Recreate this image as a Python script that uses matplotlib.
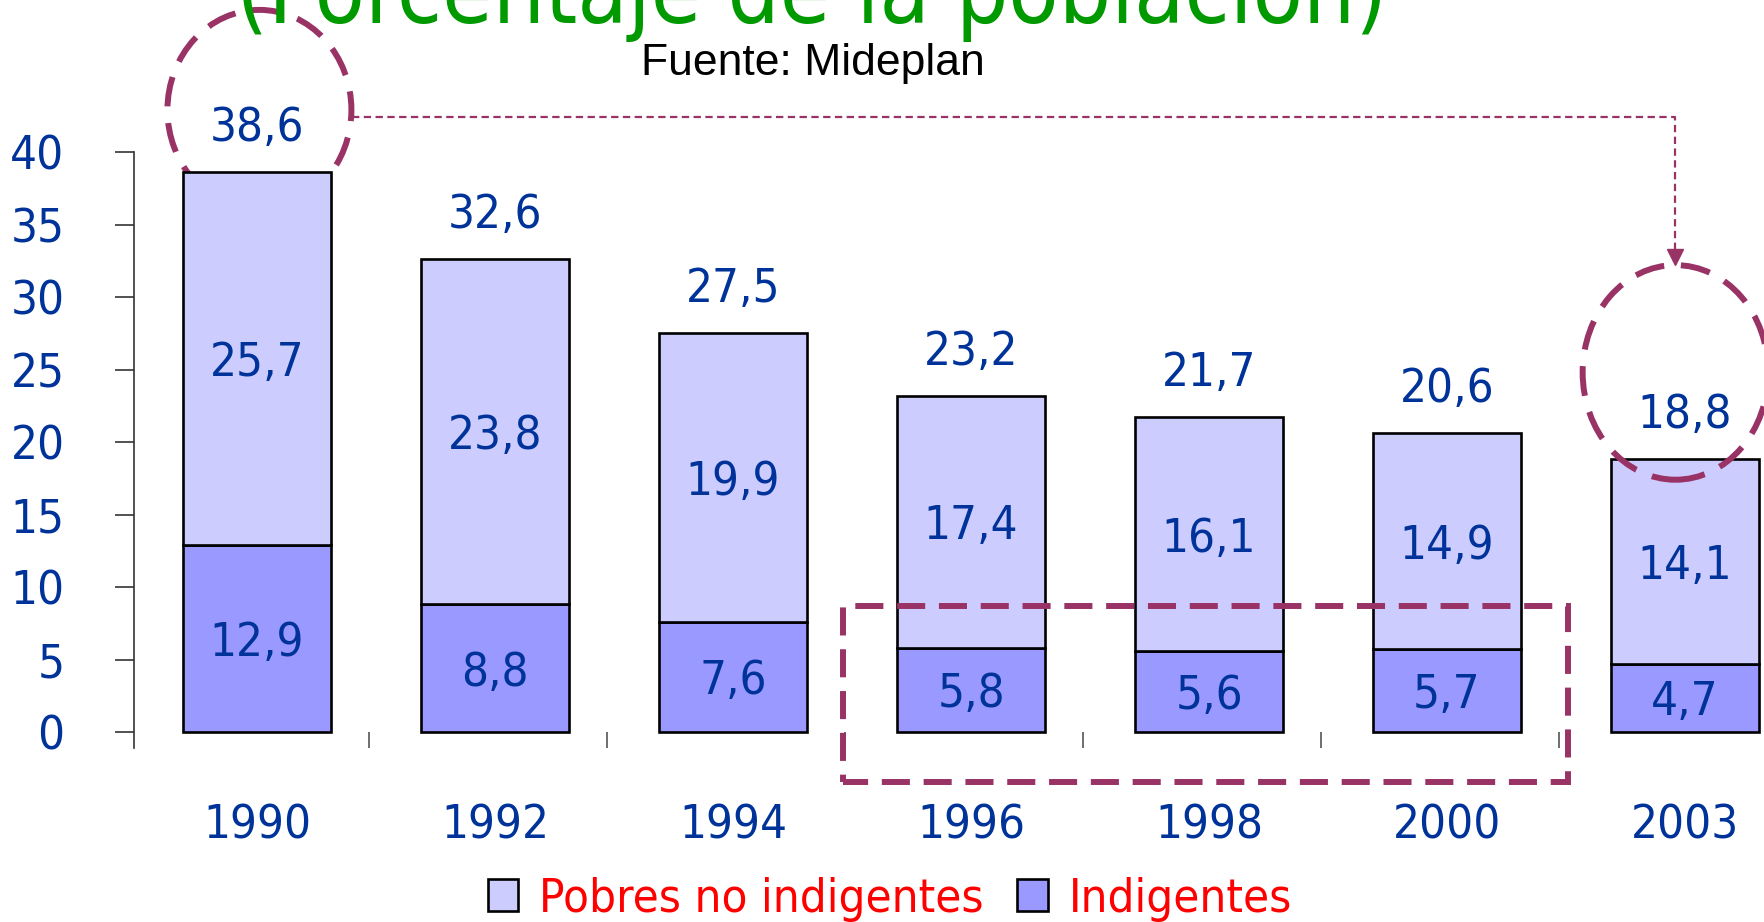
import matplotlib

matplotlib.use("Agg")
import matplotlib.pyplot as plt
import numpy as np
from matplotlib import font_manager as fm
from matplotlib.patches import Ellipse, Patch, Rectangle

years = ["1990", "1992", "1994", "1996", "1998", "2000", "2003"]
indigentes = [12.9, 8.8, 7.6, 5.8, 5.6, 5.7, 4.7]
pobres_no_ind = [25.7, 23.8, 19.9, 17.4, 16.1, 14.9, 14.1]
totales = [38.6, 32.6, 27.5, 23.2, 21.7, 20.6, 18.8]
yticks = [0, 5, 10, 15, 20, 25, 30, 35, 40]

LIGHT = "#CCCCFF"
DARK = "#9999FF"
BLUE = "#003399"
MAROON = "#993366"

# pick a narrow face if the box has one
entries = fm.fontManager.ttflist
names = {f.name for f in entries}
if "Liberation Sans Narrow" in names:
    NARROW = dict(family="Liberation Sans Narrow")
    NUM = 38
elif any(f.name == "DejaVu Sans" and f.stretch == "condensed" for f in entries):
    NARROW = dict(family="DejaVu Sans", stretch="condensed")
    NUM = 34
else:
    NARROW = dict(family="DejaVu Sans")
    NUM = 31


def fp(size, **kw):
    return fm.FontProperties(size=size, **NARROW, **kw)


W, H = 1764, 922
fig = plt.figure(figsize=(W / 100, H / 100), dpi=100)
ax = fig.add_axes([134 / W, (H - 748) / H, 1 - 134 / W, (748 - 152) / H])

x = np.arange(len(years))
bw = 0.62
ax.bar(x, indigentes, bw, color=DARK, edgecolor="black", linewidth=1.9, zorder=3)
ax.bar(x, pobres_no_ind, bw, bottom=indigentes, color=LIGHT,
       edgecolor="black", linewidth=1.9, zorder=3)

ax.set_xlim(-0.517, 6.332)
ax.set_ylim(-1.1, 40)

for i in x:
    ax.text(i, indigentes[i] / 2, f"{indigentes[i]:.1f}".replace(".", ","),
            ha="center", va="center_baseline", color=BLUE,
            fontproperties=fp(NUM), zorder=5)
    ax.text(i, indigentes[i] + pobres_no_ind[i] / 2,
            f"{pobres_no_ind[i]:.1f}".replace(".", ","),
            ha="center", va="center_baseline", color=BLUE,
            fontproperties=fp(NUM), zorder=5)
    ax.annotate(f"{totales[i]:.1f}".replace(".", ","), (i, totales[i]),
                xytext=(0, 35), textcoords="offset points", ha="center",
                va="center_baseline", color=BLUE, fontproperties=fp(NUM),
                annotation_clip=False, zorder=5)

# axes styling
for s in ["top", "right", "bottom"]:
    ax.spines[s].set_visible(False)
ax.spines["left"].set_color("#333333")
ax.spines["left"].set_linewidth(1.2)
ax.set_yticks(yticks)
ax.set_yticklabels([str(v) for v in yticks], fontproperties=fp(NUM), color=BLUE)
ax.tick_params(axis="y", direction="out", length=14, width=1.2,
               color="#333333", pad=36)
ax.set_xticks(x)
ax.set_xticklabels(years, fontproperties=fp(NUM), color=BLUE)
ax.tick_params(axis="x", which="major", length=0, pad=40)
ax.set_xticks(x[:-1] + 0.47, minor=True)
ax.tick_params(axis="x", which="minor", direction="in", length=11.5,
               width=1.2, color="#555555")

# highlight marks
ax.add_patch(Ellipse((0.01, 42.9), 0.773, 13.8, fill=False, edgecolor=MAROON,
                     linewidth=4.3, linestyle=(0, (5, 2.8)), clip_on=False,
                     zorder=2))
ax.add_patch(Ellipse((5.96, 24.8), 0.78, 14.8, fill=False, edgecolor=MAROON,
                     linewidth=4.3, linestyle=(0, (5, 2.8)), clip_on=False,
                     zorder=4))
ax.add_patch(Rectangle((2.462, -3.45), 3.046, 12.14, fill=False,
                       edgecolor=MAROON, linewidth=4.3,
                       linestyle=(0.5, (4.7, 2.3)), clip_on=False, zorder=6))
ax.plot([0.4, 5.96, 5.96], [42.4, 42.4, 33.3], color=MAROON, linewidth=1.6,
        linestyle=(0, (3.3, 2)), clip_on=False, zorder=4)
ax.plot([5.96], [32.76], marker="v", markersize=11, color=MAROON,
        clip_on=False, zorder=4)

# titles
fig.text(812 / W, (H - 23) / H, "(Porcentaje de la población)", ha="center",
         va="baseline", color="#009900", fontproperties=fp(66))
fig.text(813 / W, (H - 64) / H, "Fuente: Mideplan", ha="center", va="center",
         color="black", family="Liberation Sans", fontsize=32)

handles = [Patch(facecolor=LIGHT, edgecolor="black", linewidth=1.9),
           Patch(facecolor=DARK, edgecolor="black", linewidth=1.9)]
fig.legend(handles, ["Pobres no indigentes", "Indigentes"], loc="center",
           bbox_to_anchor=(890 / W, (H - 899) / H), ncol=2, frameon=False,
           prop=fp(NUM), labelcolor="#FF0000", handlelength=0.65,
           handleheight=0.65, handletextpad=0.45, columnspacing=0.7,
           borderpad=0, borderaxespad=0)

fig.savefig("out.png", dpi=100)
